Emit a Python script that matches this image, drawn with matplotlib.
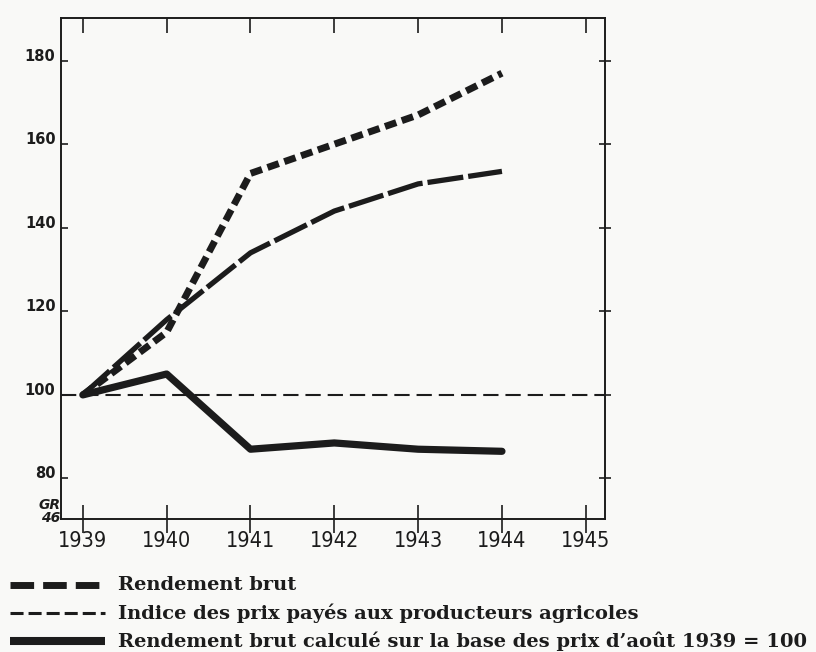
import matplotlib
matplotlib.use("Agg")
import matplotlib.pyplot as plt
from matplotlib.lines import Line2D

plt.rcParams['lines.scale_dashes'] = False

years = [1939, 1940, 1941, 1942, 1943, 1944]
rendement_brut = [100, 118, 134, 144, 150.5, 153.5]
indice_prix = [100, 115, 153, 160, 167, 177]
rendement_base_1939 = [100, 105, 87, 88.5, 87, 86.5]
reference_level = 100

x_ticks = [1939, 1940, 1941, 1942, 1943, 1944, 1945]
y_ticks = [80, 100, 120, 140, 160, 180]

labels = ["Rendement brut",
          "Indice des prix payés aux producteurs agricoles",
          "Rendement brut calculé sur la base des prix d\u2019août 1939 = 100"]

ink = "#1c1c1c"
bg = "#f9f9f7"
fig = plt.figure(figsize=(8.16, 6.52), dpi=100)
fig.patch.set_facecolor(bg)
rect = [0.0748, 0.204, 0.6667, 0.769]
ax = fig.add_axes(rect)
ax.set_facecolor(bg)

ax.axhline(reference_level, color=ink, lw=1.5, dashes=(11, 5))
ax.plot(years, indice_prix, color=ink, lw=5.0, dashes=(8.6, 4.2),
        dash_capstyle='butt', dash_joinstyle='round')
ax.plot(years, rendement_brut, color=ink, lw=3.8, dashes=(26, 3.6),
        dash_capstyle='butt')
ax.plot(years, rendement_base_1939, color=ink, lw=5.2,
        solid_capstyle='round', solid_joinstyle='round')

xlim = (1938.74, 1945.23)
ylim = (70.3, 190.3)
ax.set_xlim(*xlim)
ax.set_ylim(*ylim)

for s in ax.spines.values():
    s.set_color(ink)
    s.set_linewidth(1.4)

ax.set_xticks(x_ticks)
ax.set_xticklabels([str(v) for v in x_ticks], fontsize=15.5, color=ink,
                   fontstretch='condensed')
ax.tick_params(axis='x', direction='inout', length=20, width=1.2, top=False,
               bottom=True, pad=-1, colors=ink)
ax.set_yticks(y_ticks)
ax.set_yticklabels([str(v) for v in y_ticks], fontsize=10.5, fontweight='bold',
                   color=ink, va='baseline')
ax.tick_params(axis='y', direction='in', length=5, width=1.2, left=True,
               right=False, pad=4, colors=ink)

# top ticks (inward) and right ticks (crossing)
axt = ax.twiny()
axt.set_xlim(*xlim)
axt.set_xticks(x_ticks)
axt.set_xticklabels([])
axt.tick_params(axis='x', direction='in', length=11, width=1.2, top=True,
                bottom=False, colors=ink)
axr = ax.twinx()
axr.set_ylim(*ylim)
axr.set_yticks(y_ticks)
axr.set_yticklabels([])
axr.tick_params(axis='y', direction='inout', length=8, width=1.2, right=True,
                left=False, colors=ink)
for a in (axt, axr):
    for s in a.spines.values():
        s.set_visible(False)

fig.text(0.0610, 1 - 505 / 652, "GR", fontsize=10, fontstyle='italic', fontweight='bold',
         color=ink, ha='center', va='center')
fig.text(0.0622, 1 - 518 / 652, "46", fontsize=10, fontstyle='italic', fontweight='bold',
         color=ink, ha='center', va='center')

# legend rows
samples = [dict(lw=5.0, dashes=(17, 6.5)),
           dict(lw=2.2, dashes=(9.4, 3.6)),
           dict(lw=5.8, dashes=None)]
rows_y = [1 - 585 / 652, 1 - 613 / 652, 1 - 641 / 652]
for smp, lab, yy in zip(samples, labels, rows_y):
    ln = Line2D([10 / 816, 105 / 816], [yy, yy], transform=fig.transFigure,
                color=ink, lw=smp['lw'], solid_capstyle='butt', dash_capstyle='butt')
    if smp['dashes'] is not None:
        ln.set_dashes(smp['dashes'])
    fig.lines.append(ln)
    fig.text(118 / 816, yy, lab, fontsize=14, fontweight='bold', family='DejaVu Serif',
             color=ink, va='center')

fig.savefig("out.png", dpi=100, facecolor=fig.get_facecolor())
